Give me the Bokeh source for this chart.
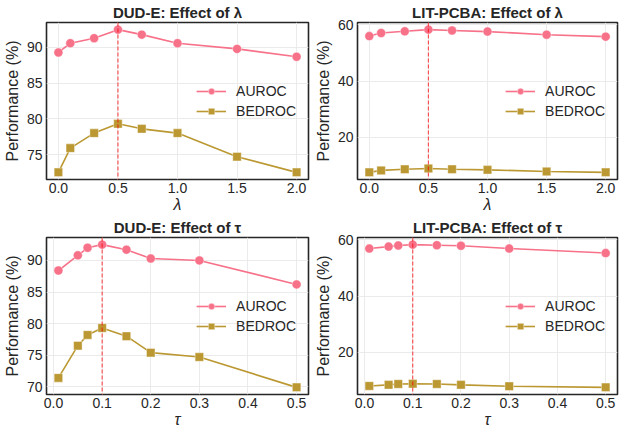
from bokeh.plotting import figure
from bokeh.layouts import column, row
from bokeh.models import Span, FixedTicker, PrintfTickFormatter, Range1d
from bokeh.embed import file_html
from bokeh.resources import INLINE

# ---- data ----
lambda_vals = [0.0, 0.1, 0.3, 0.5, 0.7, 1.0, 1.5, 2.0]
tau_vals = [0.01, 0.05, 0.07, 0.1, 0.15, 0.2, 0.3, 0.5]

dude_lambda_auroc = [89.3, 90.6, 91.3, 92.5, 91.8, 90.6, 89.8, 88.7]
dude_lambda_bedroc = [72.5, 75.9, 78.0, 79.3, 78.6, 78.0, 74.7, 72.5]
lit_lambda_auroc = [56.0, 57.1, 57.7, 58.3, 58.0, 57.6, 56.5, 55.8]
lit_lambda_bedroc = [7.5, 8.2, 8.6, 8.9, 8.6, 8.4, 7.8, 7.5]

dude_tau_auroc = [88.4, 90.8, 92.0, 92.5, 91.7, 90.3, 90.0, 86.2]
dude_tau_bedroc = [71.4, 76.5, 78.2, 79.3, 78.0, 75.4, 74.7, 69.9]
lit_tau_auroc = [56.9, 57.6, 58.0, 58.3, 58.1, 57.9, 56.9, 55.3]
lit_tau_bedroc = [8.0, 8.4, 8.7, 8.8, 8.7, 8.4, 7.9, 7.5]

best_lambda = 0.5
best_tau = 0.1

lambda_ticks = [0.0, 0.5, 1.0, 1.5, 2.0]
tau_ticks = [0.0, 0.1, 0.2, 0.3, 0.4, 0.5]
dude_lambda_yticks = [75, 80, 85, 90]
dude_tau_yticks = [70, 75, 80, 85, 90]
lit_yticks = [20, 40, 60]

titles = ["DUD-E: Effect of λ", "LIT-PCBA: Effect of λ",
          "DUD-E: Effect of τ", "LIT-PCBA: Effect of τ"]

AUROC_COLOR = "#f77189"
BEDROC_COLOR = "#bb9832"
FONT = "Liberation Sans"
TXT = "#262626"


def padded(vals, frac=0.05):
    lo, hi = min(vals), max(vals)
    d = (hi - lo) * frac
    return lo - d, hi + d


def panel(x, auroc, bedroc, title, xlabel, best, xticks, yticks, width, height, right_border):
    x0, x1 = padded(x)
    y0, y1 = padded(auroc + bedroc)
    p = figure(width=width, height=height, output_backend="svg", toolbar_location=None,
               x_range=Range1d(x0, x1), y_range=Range1d(y0, y1),
               min_border_left=0, min_border_right=right_border,
               min_border_top=0, min_border_bottom=0)
    p.title.text = title
    p.title.align = "center"
    p.title.text_font = FONT
    p.title.text_font_size = "15px"
    p.title.text_font_style = "bold"
    p.title.text_color = TXT
    p.title.standoff = 3
    p.title.offset = 0

    p.outline_line_color = "#262626"
    p.outline_line_width = 1.6
    p.outline_line_alpha = 1.0
    p.background_fill_color = "white"
    p.border_fill_color = "white"

    for ax in (p.xaxis, p.yaxis):
        ax.axis_line_color = None
        ax.major_tick_line_color = None
        ax.minor_tick_line_color = None
        ax.major_tick_out = 0
        ax.major_tick_in = 0
        ax.major_label_text_font = FONT
        ax.major_label_text_font_size = "14px"
        ax.major_label_text_color = TXT
        ax.axis_label_text_font = FONT
        ax.axis_label_text_font_size = "16px"
        ax.axis_label_text_color = TXT
    p.xaxis.major_label_standoff = 3
    p.xaxis.axis_label_standoff = 0
    p.yaxis.major_label_standoff = 4
    p.yaxis.axis_label_standoff = 3
    p.xaxis.axis_label = xlabel
    p.xaxis.axis_label_text_font_style = "italic"
    p.yaxis.axis_label = "Performance (%)"
    p.yaxis.axis_label_text_font_style = "normal"
    p.xaxis.ticker = FixedTicker(ticks=xticks)
    p.yaxis.ticker = FixedTicker(ticks=yticks)
    p.xaxis.formatter = PrintfTickFormatter(format="%.1f")
    p.yaxis.formatter = PrintfTickFormatter(format="%d")

    p.xgrid.ticker = FixedTicker(ticks=xticks)
    p.ygrid.ticker = FixedTicker(ticks=yticks)
    p.grid.grid_line_color = "#e9e9e9"
    p.grid.grid_line_width = 0.9

    p.line(x, auroc, line_color=AUROC_COLOR, line_width=1.6, legend_label="AUROC")
    p.scatter(x, auroc, marker="circle", size=9, fill_color=AUROC_COLOR,
              line_color="white", line_alpha=0.5, line_width=0.8, legend_label="AUROC")
    p.line(x, bedroc, line_color=BEDROC_COLOR, line_width=1.6, legend_label="BEDROC")
    p.scatter(x, bedroc, marker="square", size=8.5, fill_color=BEDROC_COLOR,
              line_color="white", line_alpha=0.5, line_width=0.8, legend_label="BEDROC")

    p.add_layout(Span(location=best, dimension="height", line_color="red",
                      line_dash="4 2", line_width=1.2, line_alpha=0.65))

    lg = p.legend[0]
    lg.location = "center_right"
    lg.border_line_color = None
    lg.background_fill_alpha = 0
    lg.label_text_font = FONT
    lg.label_text_font_size = "14px"
    lg.label_text_color = TXT
    lg.glyph_width = 30
    lg.glyph_height = 16
    lg.label_standoff = 10
    lg.spacing = 4
    lg.padding = 0
    lg.margin = 12
    return p


p1 = panel(lambda_vals, dude_lambda_auroc, dude_lambda_bedroc, titles[0], "λ", best_lambda,
           lambda_ticks, dude_lambda_yticks, 311, 215, 3)
p2 = panel(lambda_vals, lit_lambda_auroc, lit_lambda_bedroc, titles[1], "λ", best_lambda,
           lambda_ticks, lit_yticks, 317, 215, 11)
p3 = panel(tau_vals, dude_tau_auroc, dude_tau_bedroc, titles[2], "τ", best_tau,
           tau_ticks, dude_tau_yticks, 311, 215, 3)
p4 = panel(tau_vals, lit_tau_auroc, lit_tau_bedroc, titles[3], "τ", best_tau,
           tau_ticks, lit_yticks, 317, 215, 11)

layout = column(row(p1, p2, spacing=0), row(p3, p4, spacing=0), spacing=0)

open("out.html", "w").write(file_html(layout, INLINE))
